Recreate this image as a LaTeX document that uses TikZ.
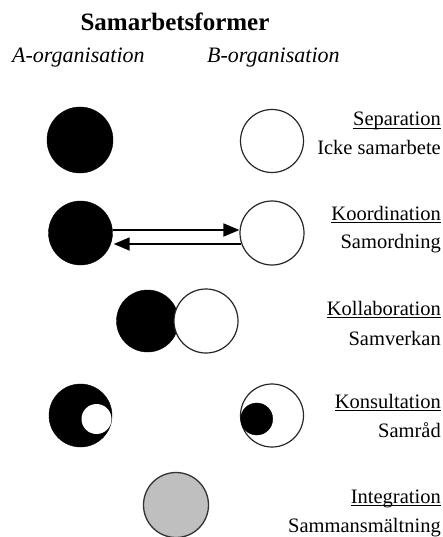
\documentclass[tikz,border=0pt]{standalone}
\usepackage{fontspec}
\setmainfont{Liberation Serif}
\usetikzlibrary{arrows.meta}
\newcommand{\myul}[1]{\setbox0\hbox{#1}\rlap{\rule[-2.4pt]{\wd0}{0.8pt}}\box0}
\begin{document}
\begin{tikzpicture}[x=1pt,y=-1pt,
  blk/.style={circle,fill=black,draw=black,inner sep=0pt,minimum size=#1},
  wht/.style={circle,fill=white,draw=black!85,line width=1.2pt,inner sep=0pt,minimum size=#1},
  gry/.style={circle,fill=black!25,draw=black!80,line width=1.3pt,inner sep=0pt,minimum size=#1},
  lbl/.style={anchor=base east,inner sep=0pt,font=\fontsize{20.5}{24}\selectfont},
  hdr/.style={anchor=base west,inner sep=0pt,font=\fontsize{22}{26}\selectfont\itshape},
  arr/.style={line width=1.8pt,-{Triangle[length=16pt,width=13pt]}}]
\useasboundingbox (0,0) rectangle (443,537);
% title
\node[anchor=base,inner sep=0pt,font=\fontsize{25}{30}\selectfont\bfseries] (title) at (175,31) {Samarbetsformer};
\node[hdr] (ha) at (12,63) {A-organisation};
\node[hdr] (hb) at (207,63) {B-organisation};
% row 1
\node[blk=66pt] (a1) at (80,140) {};
\node[wht=63pt] (b1) at (272,141) {};
\node[lbl] (l1a) at (441,126) {\myul{Separation}};
\node[lbl] (l1b) at (441,155) {Icke samarbete};
% row 2
\node[blk=64pt] (a2) at (80.5,233) {};
\node[wht=64pt] (b2) at (272,233) {};
\draw[arr] ([yshift=3pt]a2.east) -- ([yshift=3pt]b2.west);
\draw[arr] ([yshift=-11pt,xshift=1.5pt]b2.west) -- ([yshift=-11pt,xshift=1pt]a2.east);
\node[lbl] (l2a) at (441,220) {\myul{Koordination}};
\node[lbl] (l2b) at (441,248) {Samordning};
% row 3
\node[blk=62pt] (a3) at (147.5,321) {};
\node[wht=64pt] (b3) at (206,321) {};
\node[lbl] (l3a) at (441,315) {\myul{Kollaboration}};
\node[lbl] (l3b) at (441,345) {Samverkan};
% row 4
\node[blk=63pt] (a4) at (80.5,415.5) {};
\node[circle,fill=white,inner sep=0pt,minimum size=30pt] (a4i) at (96.5,419) {};
\node[wht=63pt] (b4) at (272,415.5) {};
\node[blk=32pt] (b4i) at (256.7,419) {};
\node[lbl] (l4a) at (441,408) {\myul{Konsultation}};
\node[lbl] (l4b) at (441,437) {Samråd};
% row 5
\node[gry=65pt] (c5) at (176,505) {};
\node[lbl] (l5a) at (441,503) {\myul{Integration}};
\node[lbl] (l5b) at (441,532) {Sammansmältning};
\end{tikzpicture}
\end{document}
